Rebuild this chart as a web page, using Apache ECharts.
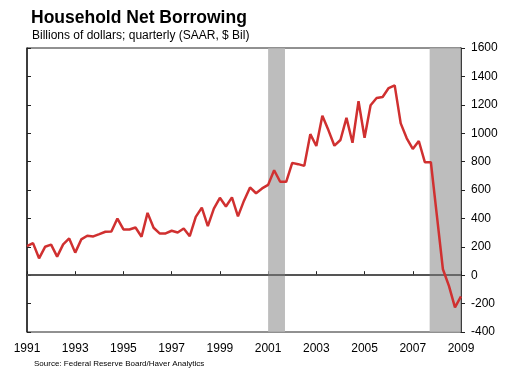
<!DOCTYPE html>
<html>
<head>
<meta charset="utf-8">
<script src="https://cdn.jsdelivr.net/npm/echarts@6/dist/echarts.min.js"></script>
<style>
html,body{margin:0;padding:0;background:#fff;}
#c{width:510px;height:370px;}
</style>
</head>
<body>
<div id="c"></div>
<script>
// Quarterly data, 1991Q1 .. 2009Q1 (billions of dollars, SAAR)
var startYear = 1991;
var borrowing = [
  205, 226, 119, 200,      // 1991
  215, 131, 217, 259,      // 1992
  159, 252, 278, 273,      // 1993
  289, 306, 308, 399,      // 1994
  322, 322, 336, 271,      // 1995
  439, 334, 294, 294,      // 1996
  313, 301, 329, 275,      // 1997
  411, 476, 345, 469,      // 1998
  545, 484, 548, 414,      // 1999
  525, 618, 577, 611,      // 2000
  636, 739, 658, 658,      // 2001
  791, 782, 770, 993,      // 2002
  910, 1123, 1022, 912,    // 2003
  952, 1108, 933, 1225,    // 2004
  968, 1197, 1248, 1255,   // 2005
  1318, 1337, 1069, 964,   // 2006
  889, 945, 796, 796,      // 2007
  420, 42, -75, -226,      // 2008
  -149                     // 2009
];
var recessionStarts = [2001.0, 2007.7];
var recessionEnds = [2001.7, 2009.0];
var xTickYears = [1991, 1993, 1995, 1997, 1999, 2001, 2003, 2005, 2007, 2009];
var yTicks = [-400, -200, 0, 200, 400, 600, 800, 1000, 1200, 1400, 1600];

var lineData = borrowing.map(function (v, i) { return [startYear + i / 4, v]; });
var bands = recessionStarts.map(function (s, i) { return [{ xAxis: s }, { xAxis: recessionEnds[i] }]; });

var font = "'Liberation Sans', Arial, sans-serif";
var chart = echarts.init(document.getElementById('c'), null, { renderer: 'canvas' });
chart.setOption({
  animation: false,
  backgroundColor: '#ffffff',
  title: [
    { text: 'Household Net Borrowing', left: 26, top: 4,
      textStyle: { fontFamily: font, fontSize: 17.5, fontWeight: 'bold', color: '#000' } },
    { text: 'Billions of dollars; quarterly (SAAR, $ Bil)', left: 27, top: 25,
      textStyle: { fontFamily: font, fontSize: 12, fontWeight: 'normal', color: '#000' } },
    { text: 'Source: Federal Reserve Board/Haver Analytics', left: 29, top: 355,
      textStyle: { fontFamily: font, fontSize: 8, fontWeight: 'normal', color: '#000' } }
  ],
  grid: { left: 27, right: 49, top: 48, bottom: 38, show: true, borderColor: '#222', borderWidth: 1 },
  xAxis: {
    type: 'value', min: xTickYears[0], max: xTickYears[xTickYears.length - 1], interval: 2,
    splitLine: { show: false },
    axisLine: { show: true, lineStyle: { color: '#222', width: 1.5 } },
    axisTick: { show: true, inside: true, length: 4, lineStyle: { color: '#222' } },
    axisLabel: { show: true, showMinLabel: true, showMaxLabel: true, margin: 11,
      fontFamily: font, fontSize: 12, color: '#000',
      formatter: function (v) { return String(Math.round(v)); } }
  },
  yAxis: [
    { type: 'value', min: yTicks[0], max: yTicks[yTicks.length - 1], interval: 200, position: 'left',
      splitLine: { show: false },
      axisLine: { show: true, onZero: false, lineStyle: { color: '#222', width: 1.5 } },
      axisTick: { show: true, inside: true, length: 4, lineStyle: { color: '#222' } },
      axisLabel: { show: false } },
    { type: 'value', min: yTicks[0], max: yTicks[yTicks.length - 1], interval: 200, position: 'right',
      splitLine: { show: false },
      axisLine: { show: true, onZero: false, lineStyle: { color: '#222', width: 1.5 } },
      axisTick: { show: true, inside: false, length: 4, lineStyle: { color: '#222' } },
      axisLabel: { show: true, margin: 10, fontFamily: font, fontSize: 12, color: '#000',
        formatter: function (v) { return String(v); } } }
  ],
  series: [
    { type: 'line', data: [], yAxisIndex: 0, silent: true,
      markLine: { silent: true, symbol: 'none', label: { show: false },
        lineStyle: { color: '#555', width: 1.5, type: 'solid' },
        data: [{ yAxis: 0 }] },
      z: 1 },
    { type: 'line', data: [], yAxisIndex: 0, silent: true,
      markArea: { silent: true, itemStyle: { color: 'rgba(178,178,178,0.85)' }, data: bands },
      z: 2 },
    { type: 'line', data: lineData, yAxisIndex: 0, showSymbol: false, symbol: 'none',
      lineStyle: { color: '#d03030', width: 2.5 }, z: 5 }
  ]
});
</script>
</body>
</html>
